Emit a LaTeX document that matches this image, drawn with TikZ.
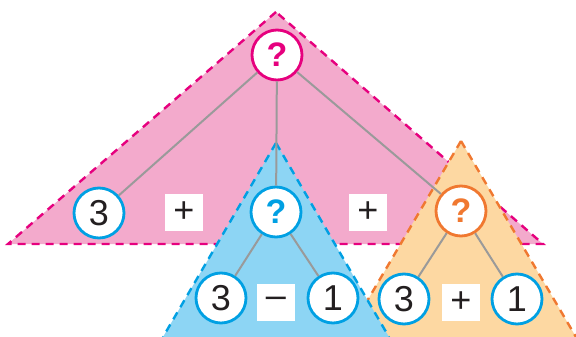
\documentclass[tikz,border=0pt]{standalone}
\usepackage{fontspec}
\setmainfont{Liberation Sans}
\definecolor{pinkfill}{HTML}{F3AACC}
\definecolor{pinkline}{HTML}{E6007E}
\definecolor{bluefill}{HTML}{8DD5F4}
\definecolor{blueline}{HTML}{00A0E3}
\definecolor{orafill}{HTML}{FDD8A2}
\definecolor{oraline}{HTML}{F07830}
\definecolor{conn}{HTML}{9A9A9A}
\definecolor{digit}{HTML}{231F20}
\begin{document}
\begin{tikzpicture}[x=1pt,y=-1pt,
  tri/.style={line width=2.4pt,dash pattern=on 8pt off 6pt},
  numcircle/.style={circle,draw=blueline,fill=white,line width=2.8pt,minimum size=50pt,inner sep=0pt,font=\fontsize{36}{36}\selectfont,text=digit},
  qcircle/.style={circle,fill=white,line width=2.8pt,minimum size=50pt,inner sep=0pt,font=\fontsize{34}{34}\selectfont\bfseries},
  opbox/.style={fill=white,minimum width=38pt,minimum height=37pt,inner sep=0pt,font=\fontsize{36}{36}\selectfont,text=digit},
  link/.style={draw=conn,line width=2pt}]
\useasboundingbox (0,0) rectangle (576,337);
% triangles
\fill[pinkfill] (276,12) -- (8,244) -- (543,244) -- cycle;
\draw[tri,pinkline] (276,12) -- (8,244) -- (543,244) -- cycle;
\begin{scope}
\clip (0,0) rectangle (576,337);
\fill[orafill] (461,141) -- (346,337) -- (576,337) -- cycle;
\draw[tri,oraline] (461,141) -- (346,337) (461,141) -- (576,337);
\fill[bluefill] (276,143) -- (163,337) -- (389,337) -- cycle;
\draw[tri,blueline] (276,143) -- (163,337) (276,143) -- (389,337);
\end{scope}
% nodes
\node[qcircle,draw=pinkline,text=pinkline] (top) at (277,55) {?};
\node[numcircle] (a3) at (99,213) {3};
\node[opbox] (p1) at (184,212) {+};
\node[qcircle,draw=blueline,text=blueline] (mid) at (276,212) {?};
\node[opbox] (p2) at (368,212) {+};
\node[qcircle,draw=oraline,text=oraline] (ora) at (461,211) {?};
\node[numcircle] (b3) at (221,298) {3};
\node[opbox] (m1) at (276,302) {–};
\node[numcircle] (b1) at (333,298) {1};
\node[numcircle] (c3) at (404,299) {3};
\node[opbox] (p3) at (461,302) {+};
\node[numcircle] (c1) at (517,299) {1};
% connectors
\draw[link] (top) -- (a3);
\draw[link] (top) -- (mid);
\draw[link] (top) -- (ora);
\draw[link] (mid) -- (b3);
\draw[link] (mid) -- (b1);
\draw[link] (ora) -- (c3);
\draw[link] (ora) -- (c1);
\end{tikzpicture}
\end{document}
